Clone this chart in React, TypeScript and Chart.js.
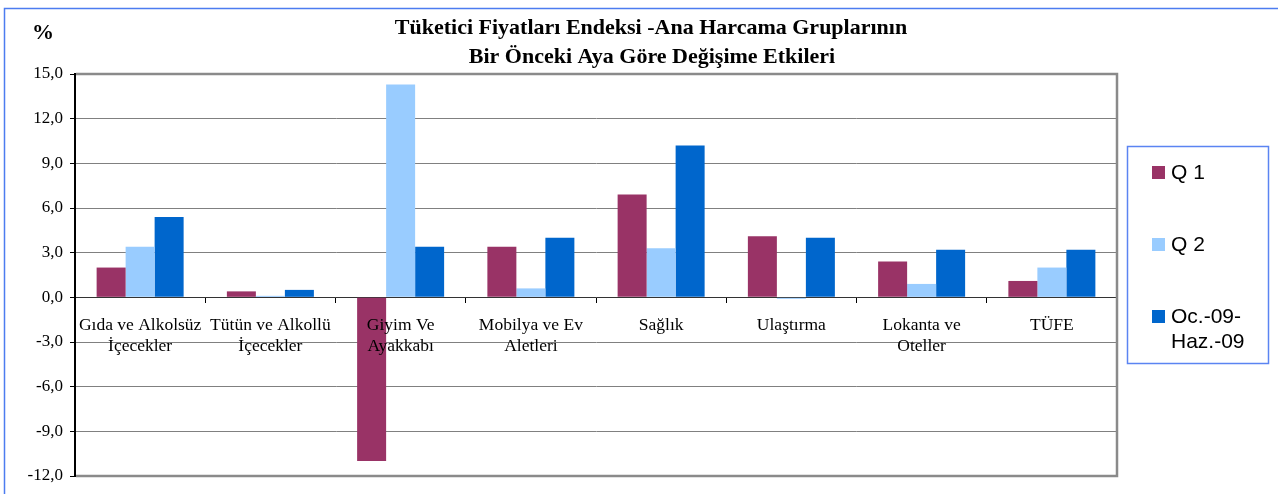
import React, { useEffect, useRef } from "react";
import { Chart, registerables } from "chart.js";

Chart.register(...registerables);

const categories: string[][] = [
  ["Gıda ve Alkolsüz", "İçecekler"],
  ["Tütün ve Alkollü", "İçecekler"],
  ["Giyim Ve", "Ayakkabı"],
  ["Mobilya ve Ev", "Aletleri"],
  ["Sağlık"],
  ["Ulaştırma"],
  ["Lokanta ve", "Oteller"],
  ["TÜFE"],
];

const q1Values = [2.0, 0.4, -11.0, 3.4, 6.9, 4.1, 2.4, 1.1];
const q2Values = [3.4, 0.1, 14.3, 0.6, 3.3, -0.1, 0.9, 2.0];
const ocHazValues = [5.4, 0.5, 3.4, 4.0, 10.2, 4.0, 3.2, 3.2];

const seriesNames = ["Q 1", "Q 2", "Oc.-09-\nHaz.-09"];
const seriesColors = ["#993366", "#99CCFF", "#0066CC"];

const titleLines = [
  "Tüketici Fiyatları Endeksi -Ana Harcama Gruplarının",
  "Bir Önceki Aya Göre Değişime Etkileri",
];
const yUnit = "%";

const SERIF = "'Liberation Serif', 'Times New Roman', serif";
const SANS = "'Liberation Sans', Arial, sans-serif";

const decorPlugin = {
  id: "decor",
  beforeDraw(chart: any) {
    const ctx = chart.ctx;
    ctx.save();
    ctx.fillStyle = "#ffffff";
    ctx.fillRect(0, 0, chart.width, chart.height);
    ctx.strokeStyle = "#4d7cf0";
    ctx.lineWidth = 1.5;
    ctx.beginPath();
    ctx.moveTo(4.5, chart.height);
    ctx.lineTo(4.5, 8.5);
    ctx.lineTo(chart.width, 8.5);
    ctx.stroke();
    ctx.restore();
  },
  afterDatasetsDraw(chart: any) {
    // category labels drawn over the bars, positioned through the scales
    const ctx = chart.ctx;
    const xs = chart.scales.x;
    const zeroY = chart.scales.y.getPixelForValue(0);
    ctx.save();
    ctx.fillStyle = "#000";
    ctx.font = `17.5px ${SERIF}`;
    ctx.textAlign = "center";
    ctx.textBaseline = "middle";
    categories.forEach((lines, i) => {
      const x = xs.getPixelForValue(i);
      lines.forEach((line, j) => {
        ctx.fillText(line, x, zeroY + 28 + j * 21);
      });
    });
    ctx.restore();
  },
  afterDraw(chart: any) {
    const ctx = chart.ctx;
    const { left, right, top, bottom } = chart.chartArea;
    ctx.save();
    // plot frame (top, right, bottom)
    ctx.strokeStyle = "#8a8a8a";
    ctx.lineWidth = 2.5;
    ctx.beginPath();
    ctx.moveTo(left + 1, top);
    ctx.lineTo(right, top);
    ctx.lineTo(right, bottom);
    ctx.lineTo(left + 1, bottom);
    ctx.stroke();

    // title
    ctx.fillStyle = "#000";
    ctx.font = `bold 22px ${SERIF}`;
    ctx.textAlign = "center";
    ctx.textBaseline = "middle";
    ctx.fillText(titleLines[0], 651, 28);
    ctx.fillText(titleLines[1], 652, 57);

    // unit
    ctx.textAlign = "left";
    ctx.fillText(yUnit, 32, 33);

    // legend
    ctx.strokeStyle = "#5b84f2";
    ctx.lineWidth = 1.5;
    ctx.strokeRect(1127.5, 146.5, 141, 217);
    const ys = [172, 244, 316];
    ctx.font = `21px ${SANS}`;
    ctx.textBaseline = "middle";
    seriesNames.forEach((name, i) => {
      ctx.fillStyle = seriesColors[i];
      ctx.fillRect(1152, ys[i] - 6, 13, 13);
      ctx.fillStyle = "#000";
      name.split("\n").forEach((line, j) => {
        ctx.fillText(line, 1171, ys[i] + 1 + j * 25);
      });
    });
    ctx.restore();
  },
};

export default function App() {
  const ref = useRef<HTMLCanvasElement | null>(null);

  useEffect(() => {
    if (!ref.current) return;
    const chart = new Chart(ref.current, {
      type: "bar",
      data: {
        labels: categories.map((c) => c.join(" ")),
        datasets: [
          { label: seriesNames[0], data: q1Values, backgroundColor: seriesColors[0] },
          { label: seriesNames[1], data: q2Values, backgroundColor: seriesColors[1] },
          { label: seriesNames[2], data: ocHazValues, backgroundColor: seriesColors[2] },
        ],
      },
      options: {
        animation: false,
        responsive: false,
        devicePixelRatio: 1,
        layout: { padding: { top: 74, bottom: 18, right: 161, left: 0 } },
        datasets: {
          bar: { barPercentage: 1, categoryPercentage: 0.668 },
        },
        plugins: {
          legend: { display: false },
          title: { display: false },
          tooltip: { enabled: false },
        },
        scales: {
          x: {
            position: { y: 0 } as any,
            grid: {
              offset: true,
              drawOnChartArea: false,
              drawTicks: true,
              tickLength: 5,
              tickColor: "#000",
            },
            border: { display: true, color: "#333", width: 1 },
            ticks: {
              display: false,
              autoSkip: false,
            },
          },
          y: {
            min: -12,
            max: 15,
            afterFit: (scale: any) => {
              scale.width = 75;
            },
            grid: {
              color: "#808080",
              lineWidth: 1,
              tickLength: 5,
              tickColor: "#000",
            },
            border: { display: true, color: "#000", width: 2 },
            ticks: {
              stepSize: 3,
              color: "#000",
              padding: 7,
              font: { family: SERIF, size: 17 },
              callback: (v: any) => Number(v).toFixed(1).replace(".", ","),
            },
          },
        },
      },
      plugins: [decorPlugin],
    });
    return () => chart.destroy();
  }, []);

  return (
    <div style={{ position: "fixed", left: 0, top: 0, width: 1278, height: 494 }}>
      <canvas ref={ref} width={1278} height={494} />
    </div>
  );
}
